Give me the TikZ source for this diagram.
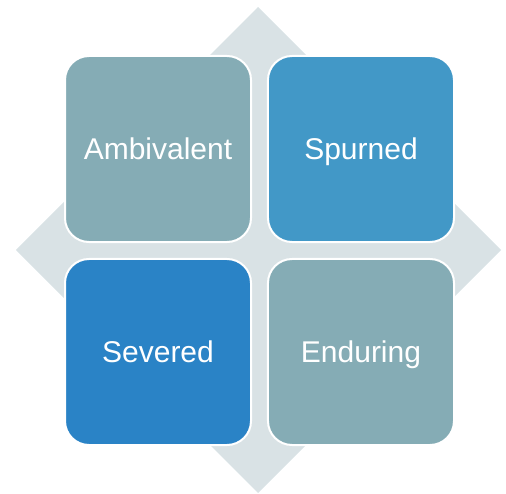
\documentclass[tikz,border=0pt]{standalone}
\usepackage{fontspec}
\setmainfont{Liberation Sans}
\usepackage{tikz}
\usetikzlibrary{matrix}

\definecolor{diamondgray}{HTML}{D9E2E5}
\definecolor{tealgray}{HTML}{85ACB5}
\definecolor{midblue}{HTML}{4298C7}
\definecolor{deepblue}{HTML}{2A83C6}

\tikzset{
    quad/.style={draw=white, line width=2pt, rounded corners=24pt,
        minimum width=186pt, minimum height=186pt, text=white,
        text height=24pt, text depth=4pt, anchor=center,
        font=\fontsize{30}{36}\selectfont, inner sep=0pt}
}

\begin{document}
\begin{tikzpicture}[x=1pt,y=1pt]
\useasboundingbox (0,0) rectangle (506,493);
% backing diamond
\fill[diamondgray] (258,486) -- (501,243) -- (258,0) -- (16,243) -- cycle;
\matrix (m) [matrix of nodes,row sep=15pt,column sep=15pt,nodes={quad}] at (259.5,242.5)
{
    |[fill=tealgray]| Ambivalent & |[fill=midblue]| Spurned \\
    |[fill=deepblue]| Severed & |[fill=tealgray]| Enduring \\
};
\end{tikzpicture}
\end{document}
